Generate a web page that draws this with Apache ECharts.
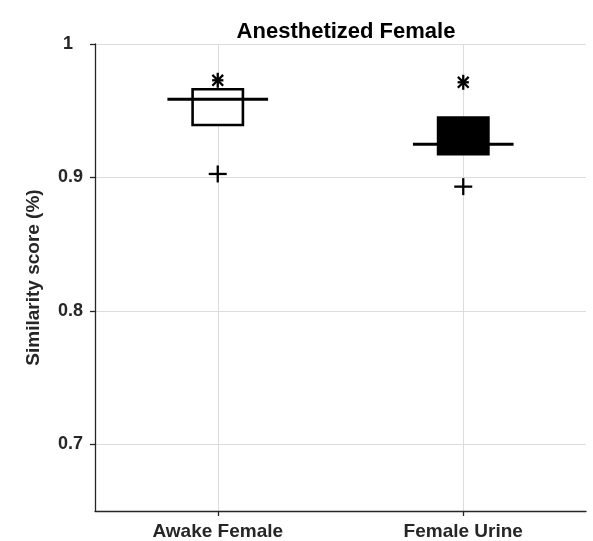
<!DOCTYPE html>
<html>
<head>
<meta charset="utf-8">
<script src="https://cdn.jsdelivr.net/npm/echarts@6/dist/echarts.min.js"></script>
<style>
  html, body { margin: 0; padding: 0; background: #fff; }
  #chart { width: 593px; height: 541px; }
</style>
</head>
<body>
<div id="chart"></div>
<script>
// Groups compared against the anesthetized female
const categories = ['Awake Female', 'Female Urine'];
// Lower and upper edges of each box
const boxLow = [0.9393, 0.9174];
const boxHigh = [0.9661, 0.9448];
// Median line of each group
const medians = [0.9586, 0.9249];
// Asterisk marker above each box
const asteriskValues = [0.9728, 0.9713];
// Plus marker below each box
const plusValues = [0.9026, 0.8931];
// Y tick labels
const yTicks = [0.7, 0.8, 0.9, 1];

const textColor = '#262626';
const fontFamily = '"Liberation Sans", Arial, Helvetica, sans-serif';
const boxFills = ['#ffffff', '#000000'];

const seriesData = categories.map((c, i) => [i, boxLow[i], boxHigh[i], medians[i], asteriskValues[i], plusValues[i]]);

const chart = echarts.init(document.getElementById('chart'), null, { renderer: 'canvas' });

chart.setOption({
  animation: false,
  backgroundColor: '#ffffff',
  title: {
    text: 'Anesthetized Female',
    left: 341,
    textAlign: 'center',
    top: 16,
    textStyle: { fontFamily, fontSize: 22, fontWeight: 'bold', color: '#000' }
  },
  grid: { left: 95, right: 7, top: 44, bottom: 29, containLabel: false },
  xAxis: {
    type: 'category',
    data: categories,
    boundaryGap: true,
    axisLine: { show: true, lineStyle: { color: textColor, width: 1.3 } },
    axisTick: { show: true, alignWithLabel: true, inside: false, length: 5, lineStyle: { color: textColor, width: 1.3 } },
    axisLabel: { margin: 11, color: textColor, fontFamily, fontSize: 19, fontWeight: 'bold' },
    splitLine: { show: true, alignWithLabel: true, lineStyle: { color: '#dcdcdc', width: 1 } }
  },
  yAxis: {
    type: 'value',
    min: 0.65,
    max: 1,
    name: 'Similarity score (%)',
    nameLocation: 'middle',
    nameGap: 52,
    nameRotate: 90,
    nameTextStyle: { color: textColor, fontFamily, fontSize: 19, fontWeight: 'bold' },
    axisLine: { show: true, lineStyle: { color: textColor, width: 1.3 } },
    axisTick: { show: true, inside: false, length: 5, customValues: yTicks, lineStyle: { color: textColor, width: 1.3 } },
    axisLabel: {
      margin: 12,
      customValues: yTicks,
      color: textColor, fontFamily, fontSize: 18, fontWeight: 'bold',
      formatter: v => (Math.abs(v - 1) < 1e-9 ? '{one|1}' : String(Math.round(v * 10) / 10)),
      rich: { one: { color: textColor, fontFamily, fontSize: 18, fontWeight: 'bold', padding: [0, 10, 0, 0] } }
    },
    splitLine: { show: true, lineStyle: { color: '#dcdcdc', width: 1 } }
  },
  series: [{
    type: 'custom',
    data: seriesData,
    encode: { x: 0, y: [1, 2, 3, 4, 5] },
    renderItem(params, api) {
      const i = api.value(0);
      const band = api.size([1, 0])[0];
      const cx = api.coord([i, api.value(3)])[0];
      const yLow = api.coord([i, api.value(1)])[1];
      const yHigh = api.coord([i, api.value(2)])[1];
      const yMed = api.coord([i, api.value(3)])[1];
      const yStar = api.coord([i, api.value(4)])[1];
      const yPlus = api.coord([i, api.value(5)])[1];
      const boxW = band * 0.205;
      const medW = band * 0.41;
      const s = 7.5; // asterisk half size
      const d = s * 0.72;
      const p = 8.5; // plus half size
      const ink = '#000000';
      const lw = 2.3;
      return {
        type: 'group',
        children: [
          {
            type: 'rect',
            shape: { x: cx - boxW / 2, y: yHigh, width: boxW, height: yLow - yHigh },
            style: { fill: boxFills[i], stroke: ink, lineWidth: 2.6 }
          },
          {
            type: 'line',
            shape: { x1: cx - medW / 2, y1: yMed, x2: cx + medW / 2, y2: yMed },
            style: { stroke: ink, lineWidth: 3 }
          },
          { type: 'line', shape: { x1: cx, y1: yStar - s, x2: cx, y2: yStar + s }, style: { stroke: ink, lineWidth: lw } },
          { type: 'line', shape: { x1: cx - s * 0.75, y1: yStar, x2: cx + s * 0.75, y2: yStar }, style: { stroke: ink, lineWidth: lw } },
          { type: 'line', shape: { x1: cx - d, y1: yStar - d, x2: cx + d, y2: yStar + d }, style: { stroke: ink, lineWidth: lw } },
          { type: 'line', shape: { x1: cx - d, y1: yStar + d, x2: cx + d, y2: yStar - d }, style: { stroke: ink, lineWidth: lw } },
          { type: 'line', shape: { x1: cx - p - 0.5, y1: yPlus, x2: cx + p + 0.5, y2: yPlus }, style: { stroke: ink, lineWidth: lw } },
          { type: 'line', shape: { x1: cx, y1: yPlus - p, x2: cx, y2: yPlus + p }, style: { stroke: ink, lineWidth: lw } }
        ]
      };
    }
  }]
});
</script>
</body>
</html>
